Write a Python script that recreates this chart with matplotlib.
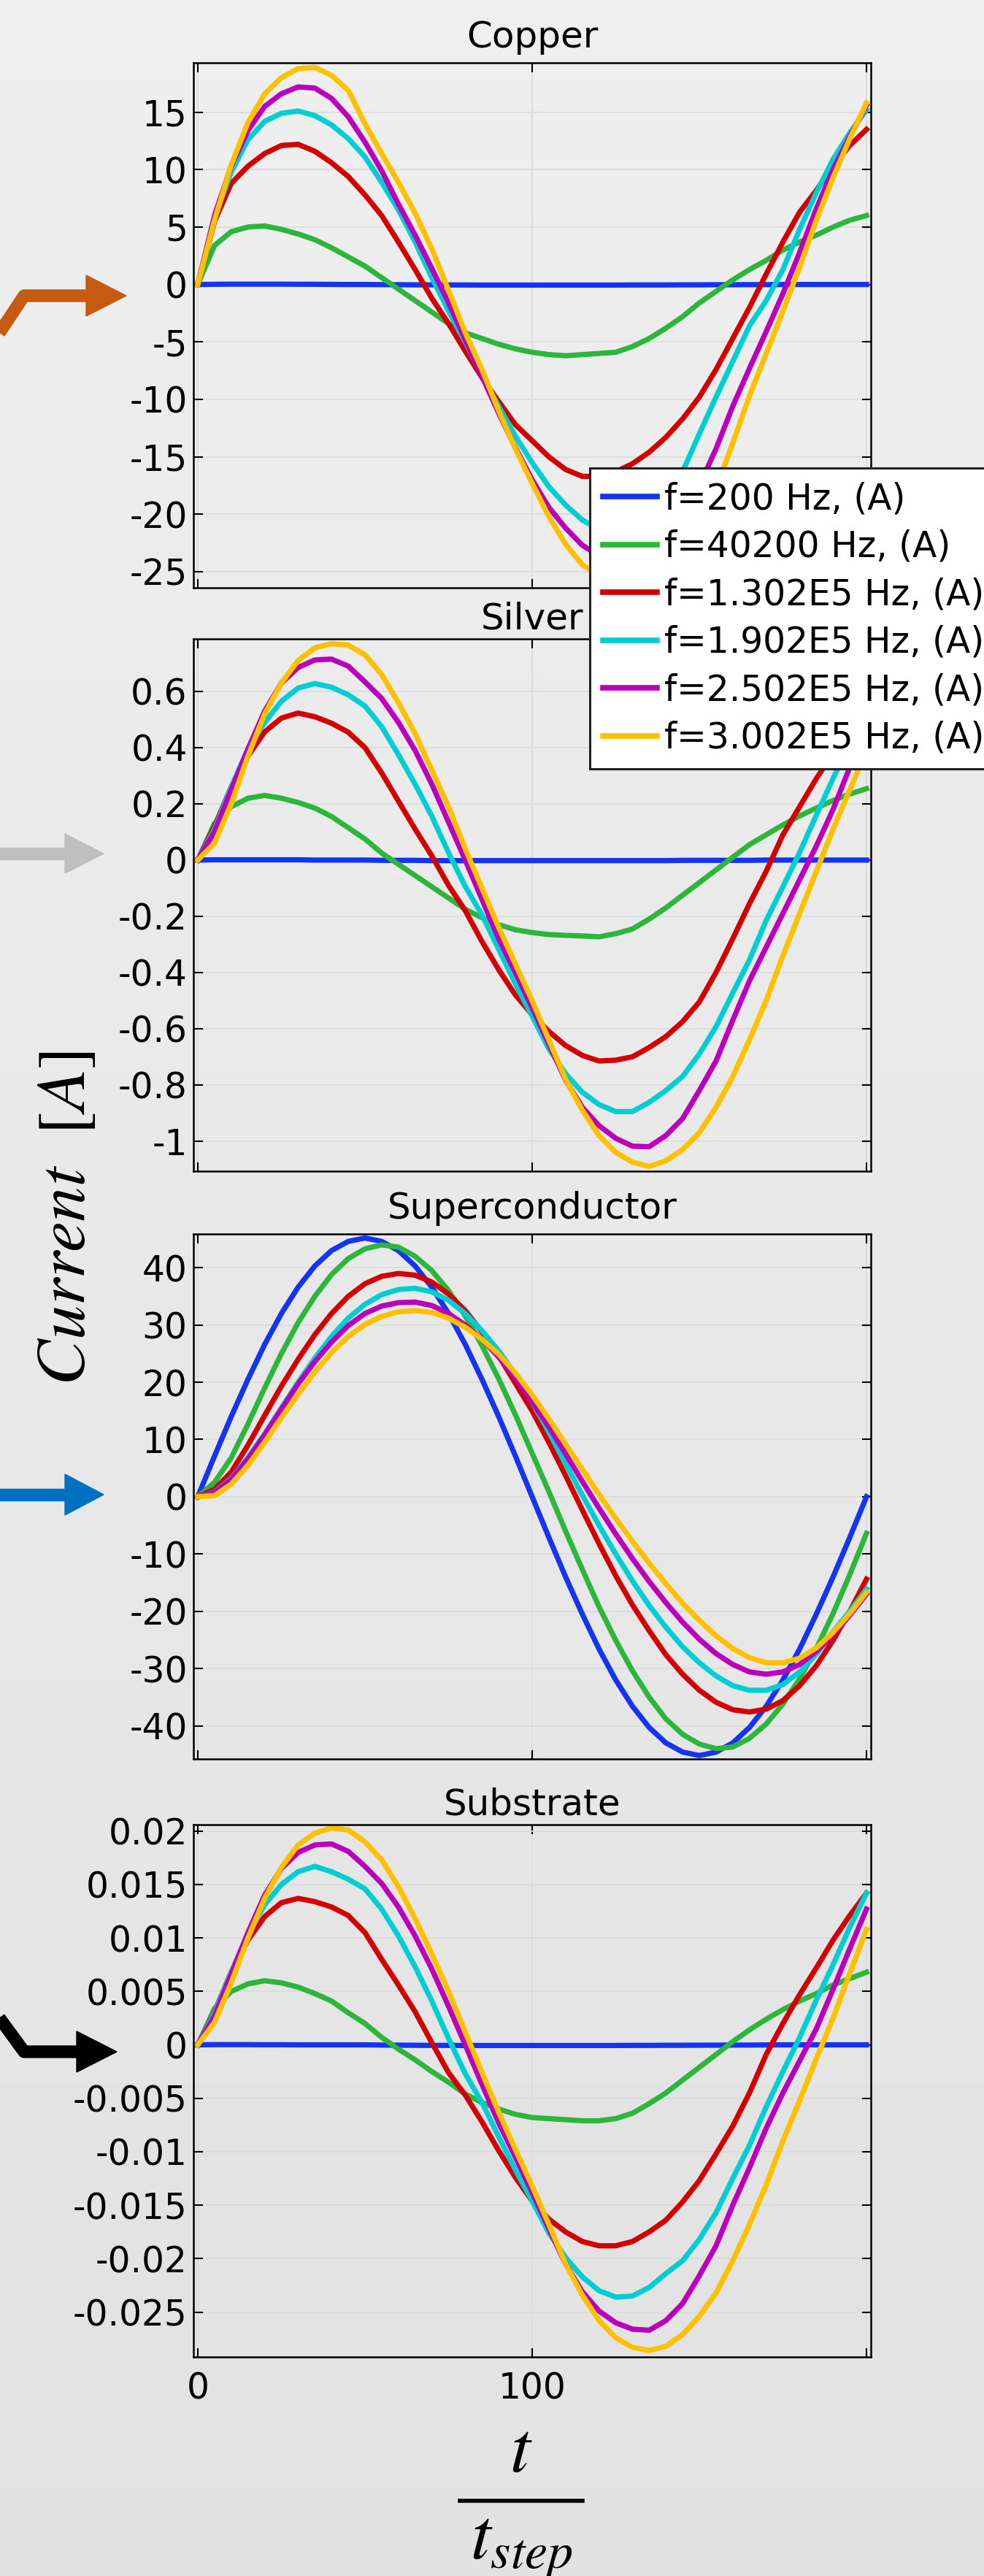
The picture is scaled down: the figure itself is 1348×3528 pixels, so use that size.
import numpy as np
import matplotlib
matplotlib.use("Agg")
import matplotlib.pyplot as plt
from matplotlib.lines import Line2D
from matplotlib.patches import Polygon

W, H = 1348, 3528
plt.rcParams["font.family"] = ["DejaVu Sans"]
plt.rcParams["mathtext.fontset"] = "stix"

# time axis (t / t_step), sampled every 5 steps
t = np.arange(0, 201, 5)

labels = ["f=200 Hz, (A)", "f=40200 Hz, (A)", "f=1.302E5 Hz, (A)",
          "f=1.902E5 Hz, (A)", "f=2.502E5 Hz, (A)", "f=3.002E5 Hz, (A)"]
colors = ["#1434f0", "#2cb63c", "#d20000", "#00ced2", "#bb00bb", "#ffc000"]

# ---- Copper ----
cu_200 = [0, 0.02, 0.03, 0.03, 0.03, 0.03, 0.02, 0.02, 0.01, 0.0,
          0.0, -0.01, -0.02, -0.03, -0.03, -0.04, -0.04, -0.05, -0.05, -0.05,
          -0.05, -0.05, -0.05, -0.05, -0.05, -0.05, -0.04, -0.04, -0.04, -0.03,
          -0.03, -0.02, -0.02, -0.01, -0.01, 0.0, 0.0, 0.0, 0.0, 0.0,
          0.0]
cu_40200 = [0, 3.4, 4.6, 5.0, 5.1, 4.8, 4.4, 3.9, 3.2, 2.4,
            1.6, 0.6, -0.4, -1.4, -2.4, -3.4, -4.2, -4.7, -5.2, -5.6,
            -5.9, -6.1, -6.2, -6.1, -6.0, -5.9, -5.4, -4.7, -3.8, -2.8,
            -1.6, -0.6, 0.4, 1.3, 2.1, 3.0, 3.7, 4.3, 5.0, 5.6,
            6.0]
cu_1302 = [0, 5.5, 8.8, 10.3, 11.4, 12.1, 12.2, 11.6, 10.6, 9.4,
           7.8, 6.0, 3.7, 1.3, -1.2, -3.4, -5.8, -8.1, -10.2, -12.2,
           -13.6, -15.0, -16.1, -16.7, -16.7, -16.3, -15.6, -14.6, -13.3, -11.7,
           -9.8, -7.4, -4.7, -2.0, 0.9, 3.7, 6.3, 8.2, 10.3, 12.1,
           13.5]
cu_1902 = [0, 5.8, 9.8, 12.6, 14.2, 14.9, 15.1, 14.7, 13.9, 12.7,
           11.1, 8.9, 6.5, 3.7, 0.6, -2.3, -5.0, -7.9, -10.6, -13.2,
           -15.5, -17.6, -19.2, -20.5, -21.3, -21.6, -21.4, -20.6, -19.0, -16.3,
           -13.0, -9.8, -6.7, -3.6, -1.4, 1.3, 4.8, 8.0, 10.9, 13.2,
           15.2]
cu_2502 = [0, 6.0, 10.3, 13.4, 15.5, 16.6, 17.2, 17.1, 16.2, 14.6,
           12.4, 9.9, 7.0, 4.3, 1.4, -1.6, -4.8, -8.0, -11.2, -14.2,
           -17.0, -19.4, -21.2, -22.7, -23.6, -24.0, -23.9, -23.3, -21.8, -19.8,
           -17.5, -14.3, -10.6, -7.3, -4.1, -0.8, 2.8, 6.6, 10.0, 12.9,
           15.6]
cu_3002 = [0, 5.6, 10.4, 14.1, 16.6, 18.0, 18.8, 18.9, 18.2, 16.9,
           14.0, 11.4, 8.9, 6.2, 3.1, -0.5, -4.2, -7.4, -11.0, -14.3,
           -17.3, -20.2, -22.6, -24.4, -25.3, -25.7, -25.6, -25.1, -24.3, -22.9,
           -20.8, -17.8, -13.8, -9.7, -6.0, -2.3, 1.5, 5.6, 9.3, 12.7,
           15.8]

# ---- Silver ----
ag_200 = [0, 0.001, 0.001, 0.001, 0.001, 0.001, 0.001, 0.0, 0.0, 0.0,
          0.0, -0.001, -0.001, -0.001, -0.002, -0.002, -0.002, -0.002, -0.002, -0.002,
          -0.002, -0.002, -0.002, -0.002, -0.002, -0.002, -0.002, -0.002, -0.002, -0.001,
          -0.001, -0.001, -0.001, -0.001, 0.0, 0.0, 0.0, 0.0, 0.0, 0.0,
          0.0]
ag_40200 = [0, 0.13, 0.19, 0.22, 0.23, 0.22, 0.205, 0.185, 0.155, 0.115,
            0.075, 0.025, -0.015, -0.055, -0.095, -0.135, -0.175, -0.205, -0.23, -0.248,
            -0.258, -0.265, -0.268, -0.27, -0.273, -0.262, -0.245, -0.21, -0.17, -0.125,
            -0.08, -0.035, 0.01, 0.055, 0.09, 0.125, 0.157, 0.185, 0.212, 0.235,
            0.254]
ag_1302 = [0, 0.12, 0.26, 0.37, 0.456, 0.505, 0.523, 0.51, 0.487, 0.455,
           0.40, 0.31, 0.21, 0.11, 0.015, -0.09, -0.18, -0.29, -0.39, -0.48,
           -0.55, -0.61, -0.66, -0.695, -0.715, -0.712, -0.70, -0.667, -0.628, -0.575,
           -0.505, -0.40, -0.28, -0.155, -0.04, 0.09, 0.19, 0.29, 0.38, 0.47,
           0.55]
ag_1902 = [0, 0.11, 0.26, 0.395, 0.49, 0.565, 0.612, 0.628, 0.615, 0.588,
           0.548, 0.475, 0.375, 0.27, 0.156, 0.026, -0.094, -0.195, -0.317, -0.44,
           -0.555, -0.672, -0.76, -0.826, -0.87, -0.895, -0.895, -0.862, -0.82, -0.77,
           -0.69, -0.593, -0.473, -0.355, -0.215, -0.095, 0.027, 0.16, 0.29, 0.42,
           0.55]
ag_2502 = [0, 0.1, 0.25, 0.395, 0.53, 0.63, 0.685, 0.712, 0.715, 0.69,
           0.634, 0.575, 0.49, 0.39, 0.27, 0.135, 0.0, -0.14, -0.28, -0.4,
           -0.525, -0.655, -0.783, -0.88, -0.945, -0.99, -1.018, -1.02, -0.98, -0.92,
           -0.82, -0.715, -0.57, -0.43, -0.31, -0.19, -0.07, 0.05, 0.18, 0.33,
           0.47]
ag_3002 = [0, 0.06, 0.2, 0.37, 0.52, 0.63, 0.71, 0.755, 0.77, 0.765,
           0.73, 0.66, 0.56, 0.45, 0.32, 0.19, 0.04, -0.1, -0.24, -0.37,
           -0.5, -0.64, -0.78, -0.89, -0.98, -1.04, -1.075, -1.09, -1.07, -1.03,
           -0.97, -0.88, -0.77, -0.64, -0.5, -0.34, -0.19, -0.04, 0.11, 0.25,
           0.39]

# ---- Superconductor ----
sc_200 = [0, 7.1, 14.0, 20.5, 26.6, 32.0, 36.6, 40.3, 43.0, 44.6,
          45.2, 44.6, 43.0, 40.3, 36.6, 32.0, 26.6, 20.5, 14.0, 7.1,
          0, -7.1, -14.0, -20.5, -26.6, -32.0, -36.6, -40.3, -43.0, -44.6,
          -45.2, -44.6, -43.0, -40.3, -36.6, -32.0, -26.6, -20.5, -14.0, -7.1,
          0]
sc_40200 = [0, 2.5, 6.8, 12.7, 19.0, 25.0, 30.4, 35.0, 38.8, 41.6,
            43.3, 44.0, 43.6, 42.0, 39.5, 36.0, 31.6, 26.4, 20.6, 14.3,
            7.6, 0.9, -6.0, -12.7, -19.2, -25.1, -30.4, -35.0, -38.8, -41.5,
            -43.2, -44.0, -43.7, -42.2, -39.7, -36.2, -31.8, -26.5, -20.4, -13.6,
            -6.4]
sc_1302 = [0, 1.3, 4.3, 9.0, 14.2, 19.3, 24.0, 28.3, 32.0, 35.0,
           37.2, 38.5, 39.0, 38.7, 37.5, 35.4, 32.5, 28.8, 24.6, 19.8,
           15.0, 9.5, 3.7, -2.3, -8.2, -13.8, -18.9, -23.4, -27.6, -31.0,
           -33.8, -35.9, -37.2, -37.6, -37.1, -35.6, -33.0, -29.5, -25.1, -20.0,
           -14.4]
sc_1902 = [0, 0.8, 3.2, 6.8, 11.0, 15.5, 20.0, 24.2, 28.0, 31.2,
           33.6, 35.3, 36.2, 36.4, 35.8, 34.3, 32.0, 29.0, 25.5, 21.3,
           16.5, 11.3, 5.8, 0.3, -5.0, -10.0, -14.7, -19.0, -22.8, -26.2,
           -29.0, -31.3, -33.0, -33.8, -33.8, -32.8, -30.6, -27.5, -23.6, -20.0,
           -16.1]
sc_2502 = [0, 0.7, 3.0, 6.6, 10.8, 15.3, 19.7, 23.6, 27.0, 29.9,
           32.0, 33.3, 33.9, 34.0, 33.4, 32.0, 30.0, 27.5, 24.4, 20.7,
           16.6, 12.2, 7.5, 2.7, -2.0, -6.5, -10.8, -14.8, -18.5, -21.9,
           -24.9, -27.4, -29.3, -30.6, -31.0, -30.6, -29.3, -27.0, -24.1, -20.7,
           -17.0]
sc_3002 = [0, 0.2, 2.2, 5.5, 9.5, 13.8, 17.9, 21.8, 25.2, 28.0,
           30.1, 31.5, 32.3, 32.5, 32.2, 31.2, 29.6, 27.5, 24.9, 21.6,
           17.8, 13.6, 9.2, 4.8, 0.4, -3.8, -7.8, -11.6, -15.2, -18.6,
           -21.6, -24.3, -26.5, -28.1, -29.0, -29.0, -28.2, -26.4, -23.7, -20.4,
           -16.7]

# ---- Substrate ----
sub_200 = [0, 0.00002, 0.00002, 0.00002, 0.00001, 0.00001, 0.0, 0.0, 0.0, 0.0,
           0.0, -0.00002, -0.00003, -0.00004, -0.00005, -0.00005, -0.00006, -0.00006, -0.00006, -0.00006,
           -0.00006, -0.00006, -0.00006, -0.00006, -0.00006, -0.00006, -0.00005, -0.00005, -0.00004, -0.00004,
           -0.00003, -0.00003, -0.00002, -0.00002, -0.00001, 0.0, 0.0, 0.0, 0.0, 0.0,
           0.0]
sub_40200 = [0, 0.0034, 0.005, 0.0057, 0.006, 0.0058, 0.0054, 0.0048, 0.0041, 0.003,
             0.002, 0.0007, -0.0004, -0.0014, -0.0025, -0.0035, -0.0046, -0.0054, -0.006, -0.0065,
             -0.0068, -0.0069, -0.007, -0.0071, -0.0071, -0.0069, -0.0064, -0.0055, -0.0045, -0.0033,
             -0.0021, -0.0009, 0.0003, 0.0014, 0.0024, 0.0033, 0.0041, 0.0048, 0.0056, 0.0062,
             0.0068]
sub_1302 = [0, 0.0031, 0.0068, 0.0098, 0.012, 0.0133, 0.0137, 0.0134, 0.0129, 0.0121,
            0.0105, 0.008, 0.0056, 0.0031, 0.0002, -0.0026, -0.0047, -0.0072, -0.0099, -0.0124,
            -0.0146, -0.0163, -0.0175, -0.0184, -0.0188, -0.0188, -0.0184, -0.0175, -0.0164, -0.0147,
            -0.0127, -0.0102, -0.0076, -0.0045, -0.0009, 0.002, 0.0047, 0.0072, 0.0098, 0.0121,
            0.0142]
sub_1902 = [0, 0.003, 0.0068, 0.0104, 0.0131, 0.015, 0.0162, 0.0167, 0.0162, 0.0155,
            0.0146, 0.0127, 0.0102, 0.0073, 0.0041, 0.0006, -0.0027, -0.0054, -0.0086, -0.0117,
            -0.0146, -0.0176, -0.0199, -0.0217, -0.023, -0.0236, -0.0235, -0.0227, -0.0214, -0.0202,
            -0.0182, -0.0157, -0.0125, -0.0094, -0.0058, -0.0025, 0.0007, 0.0042, 0.0075, 0.011,
            0.0142]
sub_2502 = [0, 0.0027, 0.0066, 0.0105, 0.014, 0.0165, 0.018, 0.0187, 0.0188, 0.0181,
            0.0167, 0.0151, 0.0129, 0.0102, 0.0071, 0.0036, 0.0, -0.0037, -0.0073, -0.0105,
            -0.0138, -0.0172, -0.0205, -0.0231, -0.0249, -0.026, -0.0266, -0.0267, -0.0258, -0.0242,
            -0.0216, -0.0188, -0.015, -0.0115, -0.0078, -0.0045, -0.0015, 0.0015, 0.0052, 0.009,
            0.0127]
sub_3002 = [0, 0.0021, 0.0058, 0.01, 0.0137, 0.0166, 0.0187, 0.0198, 0.0203, 0.0201,
            0.019, 0.0173, 0.0148, 0.0118, 0.0085, 0.005, 0.0012, -0.0026, -0.0063, -0.0098,
            -0.0132, -0.0168, -0.0205, -0.0234, -0.0258, -0.0274, -0.0283, -0.0286, -0.0282, -0.0271,
            -0.0254, -0.0232, -0.0202, -0.0168, -0.0131, -0.009, -0.0052, -0.0013, 0.0025, 0.0067,
            0.0108]

copper = [cu_200, cu_40200, cu_1302, cu_1902, cu_2502, cu_3002]
silver = [ag_200, ag_40200, ag_1302, ag_1902, ag_2502, ag_3002]
supercond = [sc_200, sc_40200, sc_1302, sc_1902, sc_2502, sc_3002]
substrate = [sub_200, sub_40200, sub_1302, sub_1902, sub_2502, sub_3002]

cu_ticks = [15, 10, 5, 0, -5, -10, -15, -20, -25]
ag_ticks = [0.6, 0.4, 0.2, 0, -0.2, -0.4, -0.6, -0.8, -1]
ag_ticklabels = ["0.6", "0.4", "0.2", "0", "-0.2", "-0.4", "-0.6", "-0.8", "-1"]
sc_ticks = [40, 30, 20, 10, 0, -10, -20, -30, -40]
sub_ticks = [0.02, 0.015, 0.01, 0.005, 0, -0.005, -0.01, -0.015, -0.02, -0.025]
sub_ticklabels = ["0.02", "0.015", "0.01", "0.005", "0", "-0.005", "-0.01",
                  "-0.015", "-0.02", "-0.025"]
x_ticks = [0, 100, 200]
x_ticklabels = ["0", "100", ""]

fig = plt.figure(figsize=(W / 100, H / 100), dpi=100)

# soft grey gradient background
bg = fig.add_axes([0, 0, 1, 1], zorder=-10)
grad = np.linspace(0.935, 0.885, 256).reshape(-1, 1)
bg.imshow(grad, cmap="gray", vmin=0, vmax=1, aspect="auto", extent=[0, 1, 0, 1])
bg.set_axis_off()


def px(x, y):
    return x / W, 1 - y / H


panels = [
    ("Copper", copper, cu_ticks, [str(v) for v in cu_ticks], (-26.4, 19.3), 86, 805, 15),
    ("Silver", silver, ag_ticks, ag_ticklabels, (-1.107, 0.787), 875, 1604, 10),
    ("Superconductor", supercond, sc_ticks, [str(v) for v in sc_ticks], (-45.8, 45.9), 1690, 2409, 15),
    ("Substrate", substrate, sub_ticks, sub_ticklabels, (-0.0292, 0.0206), 2499, 3228, 10),
]

for i, (name, series, ticks, ticklabels, ylim, top, bottom, tpad) in enumerate(panels):
    ax = fig.add_axes([265 / W, 1 - bottom / H, (1193 - 265) / W, (bottom - top) / H])
    ax.set_facecolor("none")
    ax.set_axisbelow(True)
    lines = []
    for vals, c in zip(series, colors):
        ln, = ax.plot(t, vals, color=c, lw=5.2, solid_joinstyle="round")
        lines.append(ln)
    ax.set_xlim(-1.3, 201.3)
    ax.set_ylim(*ylim)
    ax.set_yticks(ticks)
    ax.set_yticklabels(ticklabels)
    ax.set_xticks(x_ticks)
    if i == 3:
        ax.set_xticklabels(x_ticklabels)
    else:
        ax.set_xticklabels([])
    ax.tick_params(direction="in", length=9, width=1.5, top=True, right=True,
                   labelsize=35, pad=6)
    ax.tick_params(axis="x", pad=14)
    ax.grid(True, color="#dcdcdc", lw=1.3)
    for s in ax.spines.values():
        s.set_linewidth(1.8)
    ax.set_title(name, fontsize=36, pad=tpad)

leg = fig.legend(lines, labels, loc="upper left", bbox_to_anchor=px(808, 641),
                 borderaxespad=0, fontsize=35, frameon=True, fancybox=False,
                 framealpha=1, edgecolor="#222222", handlelength=1.52,
                 handletextpad=0.2, labelspacing=0.36, borderpad=0.38)
leg.get_frame().set_linewidth(2.2)
for lh in leg.get_lines():
    lh.set_linewidth(5.5)

# axis labels
fig.text(90 / W, 1 - 1668 / H, r"$Current\ \ [A]$", rotation=90, fontsize=68,
         ha="center", va="center")
fig.text(714 / W, 1 - 3385 / H, r"$t$", fontsize=72, ha="center", va="baseline")
fig.add_artist(Line2D([630 / W, 798 / W], [1 - 3425 / H] * 2, lw=4, color="black"))
fig.text(714 / W, 1 - 3505 / H, r"$t_{step}$", fontsize=72, ha="center", va="baseline")


# coloured pointer arrows on the left
def pointer(path, tip, base_x, half, color):
    xs, ys = zip(*[px(*p) for p in path])
    fig.add_artist(Line2D(xs, ys, color=color, lw=12.5, solid_joinstyle="round",
                          solid_capstyle="butt"))
    head = [px(base_x, tip[1] - half), px(*tip), px(base_x, tip[1] + half)]
    fig.add_artist(Polygon(head, closed=True, color=color, transform=fig.transFigure))


pointer([(-5, 462), (33, 405), (120, 405)], (173, 405), 118, 28, "#c55a11")
pointer([(-5, 1169), (91, 1169)], (142, 1169), 89, 27, "#bfbfbf")
pointer([(-5, 2047), (91, 2047)], (142, 2047), 89, 28, "#0070c0")
pointer([(-5, 2758), (33, 2810), (107, 2810)], (160, 2810), 105, 28, "black")

fig.savefig("out.png", dpi=100)
